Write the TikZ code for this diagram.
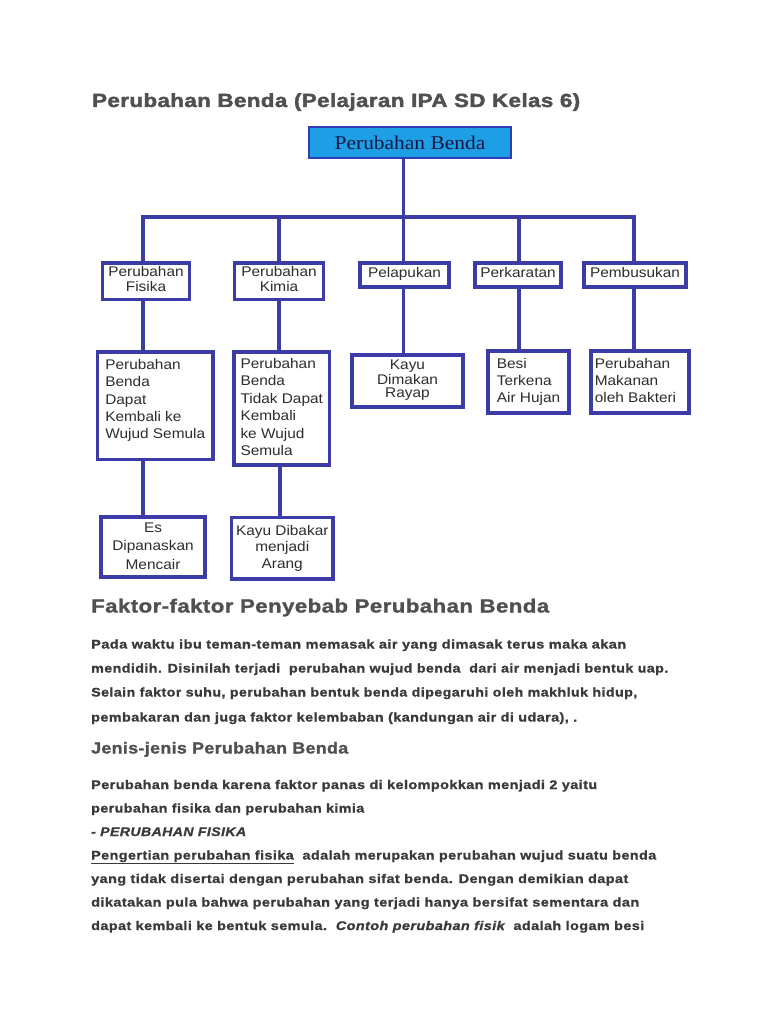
\documentclass[tikz,border=0pt]{standalone}
\usepackage{fontspec}
\usepackage{graphicx}
\setmainfont{Liberation Sans}
\newfontfamily\boxfont[FakeStretch=1.1]{Liberation Sans}
\newfontfamily\topfont[FakeStretch=1.1]{Liberation Serif}
\newfontfamily\titlefont[LetterSpace=2, BoldFeatures={FakeBold=2}]{Liberation Sans}
\newfontfamily\headfont[LetterSpace=2, BoldFeatures={FakeBold=1.2}]{Liberation Sans}
\newfontfamily\bodyfont[LetterSpace=3, BoldFeatures={FakeBold=1}, BoldItalicFeatures={FakeBold=1}]{Liberation Sans}
\newcommand\fitw[2]{\resizebox{#1pt}{\height}{#2}}
\newcommand\boxlines[4]{\fontsize{14}{#3}\selectfont\raisebox{#2}[\height][\depth]{\begin{tabular}{#1}#4\end{tabular}}}
\definecolor{linec}{RGB}{60,60,168}
\definecolor{topfill}{RGB}{30,158,228}
\definecolor{topedge}{RGB}{50,60,180}
\definecolor{toptext}{RGB}{20,24,70}
\definecolor{boxtext}{RGB}{45,45,45}
\definecolor{titlec}{RGB}{80,80,80}
\definecolor{headc}{RGB}{80,80,80}
\definecolor{bodyc}{RGB}{58,58,58}
\begin{document}
\begin{tikzpicture}[x=1pt,y=-1pt,
  conn/.style={draw=linec, line width=3.2pt},
  box/.style={draw=linec, line width=3.2pt, fill=white, inner sep=0pt, text=boxtext, font=\boxfont},
  topbox/.style={draw=topedge, line width=2.2pt, fill=topfill, inner sep=0pt, text=toptext, font=\topfont\fontsize{19.5}{22}\selectfont},
  body/.style={anchor=base west, inner sep=0pt, text=bodyc, font=\bodyfont\bfseries\fontsize{12.5}{14}\selectfont},
  head/.style={anchor=base west, inner sep=0pt, text=headc, font=\headfont\bfseries\fontsize{19}{22}\selectfont},
  subhead/.style={anchor=base west, inner sep=0pt, text=headc, font=\headfont\bfseries\fontsize{16}{19}\selectfont}
]
\fill[white] (0,0) rectangle (768,1024);
\useasboundingbox (0,0) rectangle (768,1024);

% title
\node[anchor=base west, inner sep=0pt, text=titlec, font=\titlefont\bfseries\fontsize{19}{22}\selectfont] (title) at (92,107)
  {\fitw{488}{Perubahan Benda (Pelajaran IPA SD Kelas 6)}};

% junction coordinates
\coordinate (b1) at (143,217);
\coordinate (b2) at (279,217);
\coordinate (b3) at (403.5,217);
\coordinate (b4) at (519,217);
\coordinate (b5) at (634,217);
\coordinate (c2) at (280,217);

% boxes
\node[topbox, minimum width=202pt, minimum height=31pt] (top) at (410,142.5) {Perubahan Benda};

\node[box, minimum width=87pt, minimum height=36.5pt] (fis) at (146,281.25) {\boxlines{@{}c@{}}{0pt}{14.7}{Perubahan\\Fisika}};
\node[box, minimum width=89pt, minimum height=36.5pt] (kim) at (279,281.25) {\boxlines{@{}c@{}}{0pt}{14.7}{Perubahan\\Kimia}};
\node[box, minimum width=89pt, minimum height=24pt] (pel) at (404.5,275) {\boxlines{@{}c@{}}{0pt}{14.7}{Pelapukan}};
\node[box, minimum width=86pt, minimum height=24pt] (per) at (518,275) {\boxlines{@{}c@{}}{0pt}{14.7}{Perkaratan}};
\node[box, minimum width=102pt, minimum height=24pt] (pem) at (635,275) {\boxlines{@{}c@{}}{0pt}{14.7}{Pembusukan}};

\node[box, minimum width=115.5pt, minimum height=107.5pt] (fis2) at (155.25,405.75) {\boxlines{@{}l@{}}{5pt}{17.3}{Perubahan\\Benda\\Dapat\\Kembali ke\\Wujud Semula}};
\node[box, minimum width=95.5pt, minimum height=113pt] (kim2) at (281.75,408.5) {\boxlines{@{}l@{}}{0pt}{17.4}{Perubahan\\Benda\\Tidak Dapat\\Kembali\\ke Wujud\\Semula}};
\node[box, minimum width=111pt, minimum height=52pt] (kayu) at (407.5,381) {\boxlines{@{}c@{}}{0pt}{13.5}{Kayu\\Dimakan\\Rayap}};
\node[box, minimum width=81pt, minimum height=62pt] (besi) at (528.5,382) {\boxlines{@{}l@{}}{0pt}{17}{Besi\\Terkena\\Air Hujan}};
\node[box, minimum width=98pt, minimum height=62pt] (mak) at (640,382) {\boxlines{@{}l@{\hspace{9pt}}}{0pt}{17}{Perubahan\\Makanan\\oleh Bakteri}};

\node[box, minimum width=104pt, minimum height=60pt] (es) at (153,547) {\boxlines{@{}c@{}}{0pt}{18.5}{Es\\Dipanaskan\\Mencair}};
\node[box, minimum width=101.5pt, minimum height=61.5pt] (arang) at (282.25,548.25) {\boxlines{@{}c@{}}{0pt}{16.5}{Kayu Dibakar\\menjadi\\Arang}};

% connectors
\draw[conn] (top.south -| b3) -- (b3);
\draw[conn] ([xshift=-1.6pt]b1) -- ([xshift=1.6pt]b5);
\draw[conn] (b1) -- (fis.north -| b1);
\draw[conn] (b2) -- (kim.north -| b2);
\draw[conn] (b3) -- (pel.north -| b3);
\draw[conn] (b4) -- (per.north -| b4);
\draw[conn] (b5) -- (pem.north -| b5);
\draw[conn] (fis.south -| b1) -- (fis2.north -| b1);
\draw[conn] (kim.south -| b2) -- (kim2.north -| b2);
\draw[conn] (pel.south -| b3) -- (kayu.north -| b3);
\draw[conn] (per.south -| b4) -- (besi.north -| b4);
\draw[conn] (pem.south -| b5) -- (mak.north -| b5);
\draw[conn] (fis2.south -| b1) -- (es.north -| b1);
\draw[conn] (kim2.south -| c2) -- (arang.north -| c2);

% text
\node[head] (h1) at (91,612.5) {\fitw{458}{Faktor-faktor Penyebab Perubahan Benda}};
\node[body] (p1) at (91,648.5) {\fitw{535}{Pada waktu ibu teman-teman memasak air yang dimasak terus maka akan}};
\node[body] (p2) at (91,672.5) {\fitw{577}{mendidih. Disinilah terjadi\ \ perubahan wujud benda\ \ dari air menjadi bentuk uap.}};
\node[body] (p3) at (91,696.5) {\fitw{546}{Selain faktor suhu, perubahan bentuk benda dipegaruhi oleh makhluk hidup,}};
\node[body] (p4) at (91,721.5) {\fitw{486}{pembakaran dan juga faktor kelembaban (kandungan air di udara), .}};

\node[subhead] (h2) at (91,753.5) {\fitw{257}{Jenis-jenis Perubahan Benda}};
\node[body] (q1) at (91,789) {\fitw{506}{Perubahan benda karena faktor panas di kelompokkan menjadi 2 yaitu}};
\node[body] (q2) at (91,812.5) {\fitw{273}{perubahan fisika dan perubahan kimia}};
\node[body] (q3) at (91,836) {\fitw{155}{\itshape - PERUBAHAN FISIKA}};
\node[body] (q4) at (91,859.5) {\fitw{565}{\underline{Pengertian perubahan fisika}\ \ adalah merupakan perubahan wujud suatu benda}};
\node[body] (q5) at (91,883) {\fitw{537}{yang tidak disertai dengan perubahan sifat benda. Dengan demikian dapat}};
\node[body] (q6) at (91,906.5) {\fitw{548}{dikatakan pula bahwa perubahan yang terjadi hanya bersifat sementara dan}};
\node[body] (q7) at (91,930) {\fitw{553}{dapat kembali ke bentuk semula.\ \ {\itshape Contoh perubahan fisik}\ \ adalah logam besi}};
\end{tikzpicture}
\end{document}
